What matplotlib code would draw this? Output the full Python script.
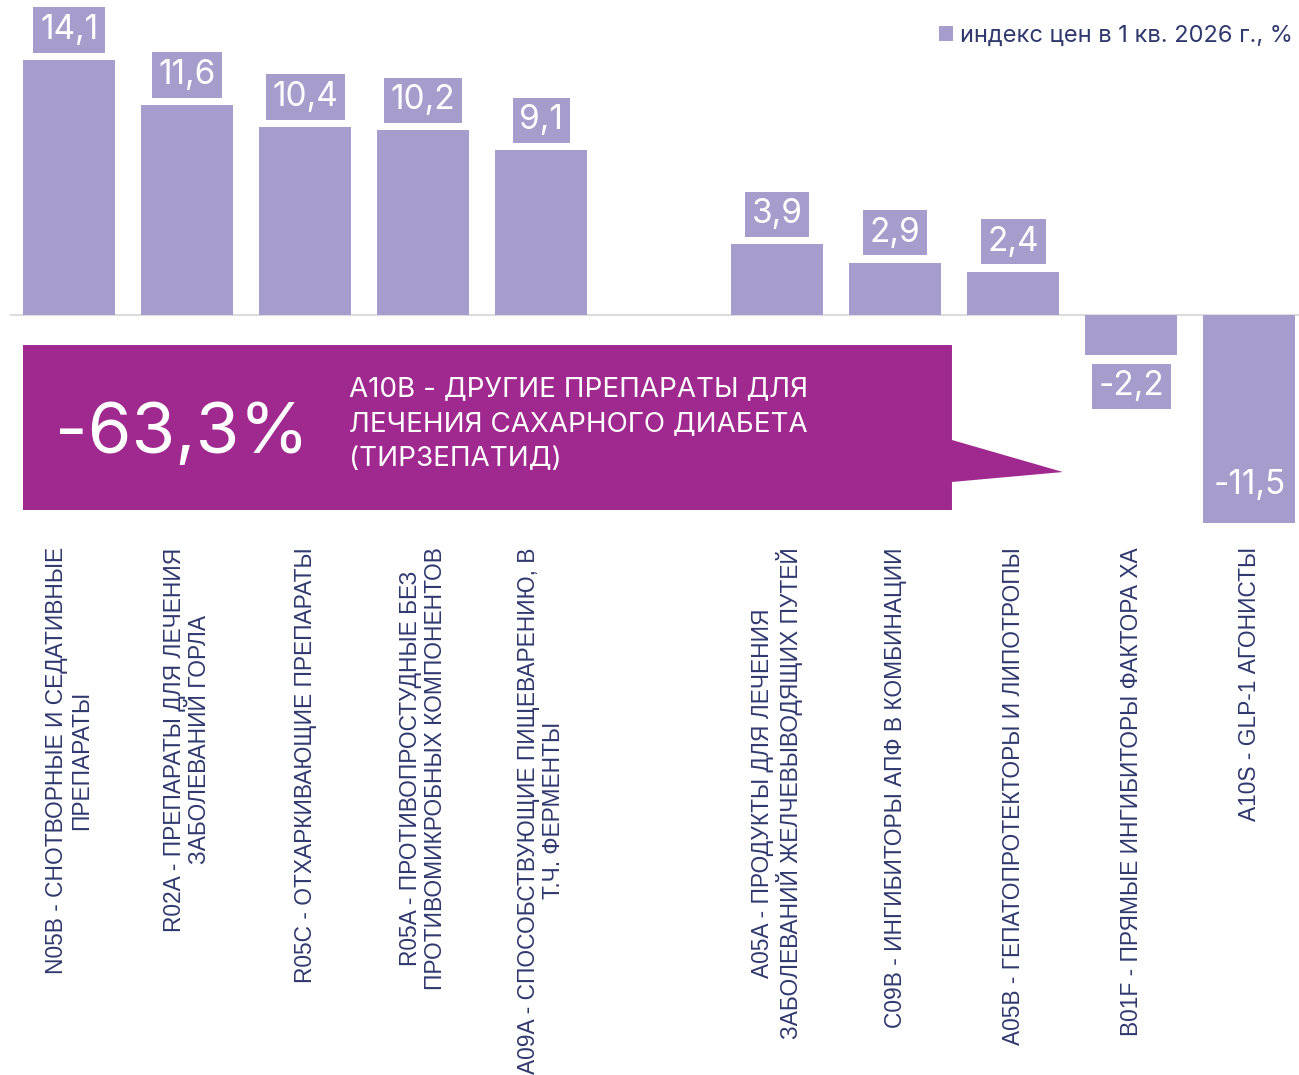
import matplotlib.pyplot as plt
from matplotlib.patches import Polygon

# data
codes = ["N05B", "R02A", "R05C", "R05A", "A09A", "A10B",
         "A05A", "C09B", "A05B", "B01F", "A10S"]
names = [
    "СНОТВОРНЫЕ И СЕДАТИВНЫЕ\nПРЕПАРАТЫ",
    "ПРЕПАРАТЫ ДЛЯ ЛЕЧЕНИЯ\nЗАБОЛЕВАНИЙ ГОРЛА",
    "ОТХАРКИВАЮЩИЕ ПРЕПАРАТЫ",
    "ПРОТИВОПРОСТУДНЫЕ БЕЗ\nПРОТИВОМИКРОБНЫХ КОМПОНЕНТОВ",
    "СПОСОБСТВУЮЩИЕ ПИЩЕВАРЕНИЮ, В\nТ.Ч. ФЕРМЕНТЫ",
    "ДРУГИЕ ПРЕПАРАТЫ ДЛЯ\nЛЕЧЕНИЯ САХАРНОГО ДИАБЕТА\n(ТИРЗЕПАТИД)",
    "ПРОДУКТЫ ДЛЯ ЛЕЧЕНИЯ\nЗАБОЛЕВАНИЙ ЖЕЛЧЕВЫВОДЯЩИХ ПУТЕЙ",
    "ИНГИБИТОРЫ АПФ В КОМБИНАЦИИ",
    "ГЕПАТОПРОТЕКТОРЫ И ЛИПОТРОПЫ",
    "ПРЯМЫЕ ИНГИБИТОРЫ ФАКТОРА ХА",
    "GLP-1 АГОНИСТЫ",
]
values = [14.1, 11.6, 10.4, 10.2, 9.1, -63.3, 3.9, 2.9, 2.4, -2.2, -11.5]
highlight = "A10B"
legend_label = "индекс цен в 1 кв. 2026 г., %"

bar_color = "#A69DCD"
hl_color = "#A0298F"
text_color = "#2F396E"

W, H = 1299, 1075
fig = plt.figure(figsize=(W / 100, H / 100), dpi=100)

ymin, ymax = -12.0, 17.4
ppu = 18.09  # pixels per unit
zero_px = 315
top_px = zero_px - ymax * ppu
bot_px = zero_px - ymin * ppu
ax = fig.add_axes([10 / W, 1 - bot_px / H, 1 - 10 / W, (bot_px - top_px) / H])
ax.set_ylim(ymin, ymax)
ax.set_xlim(-0.5, 10.42)

xs = list(range(len(codes)))
hl = codes.index(highlight)
bx = [x for x, c in zip(xs, codes) if c != highlight]
bv = [v for v, c in zip(values, codes) if c != highlight]
bars = ax.bar(bx, bv, width=0.78, color=bar_color, label=legend_label, zorder=2)
ax.axhline(0, color="#DDDDDD", lw=1.6, zorder=1)

box = dict(boxstyle="square,pad=0.2", fc=bar_color, ec="none")
for x, v in zip(bx, bv):
    s = f"{v:.1f}".replace(".", ",")
    off = 30 * 0.72
    if v >= 0:
        ax.annotate(s, (x, v), xytext=(0, off), textcoords="offset points",
                    ha="center", va="center", fontsize=24, family="Inter",
                    color="white", bbox=box)
    elif v - 30 / ppu - 1.3 > ymin:
        ax.annotate(s, (x, v), xytext=(0, -off - 1), textcoords="offset points",
                    ha="center", va="center", fontsize=24, family="Inter",
                    color="white", bbox=box)
    else:
        ax.annotate(s, (x, v), xytext=(0, 38 * 0.72), textcoords="offset points",
                    ha="center", va="center", fontsize=24, family="Inter",
                    color="white")

# highlight banner for the off-scale category
x0, x1, xt = -0.39, 7.48, 8.42
y0, y1 = -1.66, -10.78
ax.add_patch(Polygon([(x0, y0), (x1, y0), (x1, -6.91), (xt, -8.68),
                      (x1, -9.23), (x1, y1), (x0, y1)],
                     closed=True, fc=hl_color, ec="none", zorder=3))
hv = f"{values[hl]:.1f}".replace(".", ",") + "%"
ax.text(-0.12, -6.6, hv, ha="left", va="center", fontsize=51,
        family="Inter", color="white", zorder=4)
ax.text(2.37, -6.05, f"{highlight} - {names[hl]}", ha="left", va="center",
        fontsize=20, family="Inter", color="white", linespacing=1.45, zorder=4)

ticklabels = ["" if c == highlight else f"{c} - {n}" for c, n in zip(codes, names)]
ax.set_xticks(xs)
ax.set_xticklabels(ticklabels, rotation=90, fontsize=16.4, family="Liberation Sans",
                   color=text_color, multialignment="center", linespacing=1.1)
ax.tick_params(axis="x", length=0, pad=11)
ax.set_yticks([])
for sp in ax.spines.values():
    sp.set_visible(False)

ax.legend(handles=[bars], loc="upper right", bbox_to_anchor=(1.006, 0.99),
          bbox_transform=fig.transFigure, frameon=False,
          prop={"family": "Inter", "size": 17}, labelcolor=text_color,
          handlelength=0.6, handleheight=0.6, handletextpad=0.3,
          borderaxespad=0.2)

fig.savefig("out.png", dpi=100)
